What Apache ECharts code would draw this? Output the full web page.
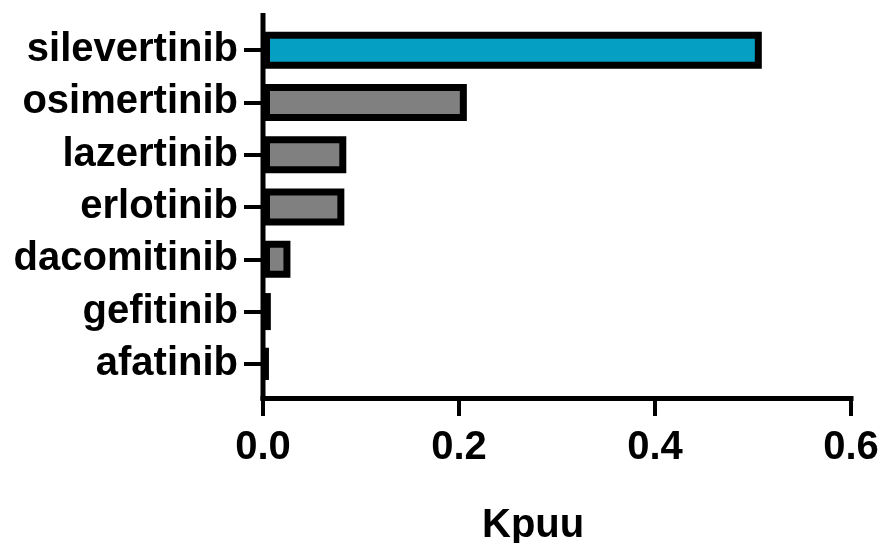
<!DOCTYPE html>
<html>
<head>
<meta charset="utf-8">
<script src="https://cdn.jsdelivr.net/npm/echarts@6/dist/echarts.min.js"></script>
<style>
  html, body { margin: 0; padding: 0; background: #fff; }
  #chart { width: 884px; height: 543px; }
</style>
</head>
<body>
<div id="chart"></div>
<script>
// Drugs, listed bottom to top on the category axis
const drugs = ['afatinib', 'gefitinib', 'dacomitinib', 'erlotinib', 'lazertinib', 'osimertinib', 'silevertinib'];
// Unbound brain-to-plasma partition coefficient
const kpuu = [0.005, 0.008, 0.028, 0.083, 0.085, 0.208, 0.509];
const xTicks = [0, 0.2, 0.4, 0.6];
const highlightDrug = 'silevertinib';

const FONT = '"Liberation Sans", Arial, Helvetica, sans-serif';
const GRID = { left: 263, top: 24, width: 588, height: 366 };
const AXIS_W = 5;
const X_LINE_Y = 398;

const chart = echarts.init(document.getElementById('chart'), null, { renderer: 'canvas' });

chart.setOption({
  animation: false,
  backgroundColor: '#ffffff',
  grid: { left: GRID.left, top: GRID.top, width: GRID.width, height: GRID.height, containLabel: false },
  xAxis: {
    type: 'value',
    min: xTicks[0],
    max: xTicks[xTicks.length - 1],
    interval: 0.2,
    offset: X_LINE_Y - (GRID.top + GRID.height),
    axisLine: { show: true, onZero: false, lineStyle: { color: '#000', width: AXIS_W, cap: 'square' } },
    axisTick: { show: true, length: 18, lineStyle: { color: '#000', width: 4 } },
    axisLabel: {
      margin: 30,
      color: '#000',
      fontFamily: FONT,
      fontWeight: 'bold',
      fontSize: 40,
      formatter: v => v.toFixed(1)
    },
    splitLine: { show: false }
  },
  yAxis: {
    type: 'category',
    data: drugs,
    axisLine: { show: false },
    axisTick: { show: true, alignWithLabel: true, length: 19, lineStyle: { color: '#000', width: 4 } },
    axisLabel: {
      margin: 25,
      color: '#000',
      fontFamily: FONT,
      fontWeight: 'bold',
      fontSize: 40
    }
  },
  series: [{
    type: 'bar',
    barWidth: 37,
    data: kpuu.map((v, i) => ({
      value: v,
      itemStyle: { color: drugs[i] === highlightDrug ? '#049fc2' : '#808080' }
    })),
    itemStyle: { borderColor: '#000', borderWidth: 7 }
  }],
  graphic: [
    {
      // vertical axis line, running a little past the category band
      type: 'line',
      z: 100,
      shape: { x1: GRID.left, y1: 13, x2: GRID.left, y2: X_LINE_Y + AXIS_W / 2 },
      style: { stroke: '#000', lineWidth: AXIS_W }
    },
    {
      type: 'text',
      left: 482,
      top: 506,
      style: {
        text: 'Kpuu',
        fill: '#000',
        font: 'bold 40px ' + FONT
      }
    }
  ]
});
</script>
</body>
</html>
